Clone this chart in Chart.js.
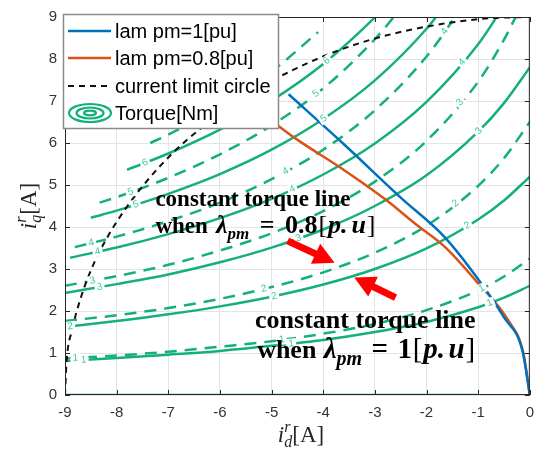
<!DOCTYPE html>
<html>
<head>
<meta charset="utf-8">
<script src="https://cdn.jsdelivr.net/npm/chart.js@4.4.1/dist/chart.umd.min.js"></script>
<style>
  body { margin: 0; background: #fff; }
</style>
</head>
<body>
<canvas id="myChart" width="543" height="453"></canvas>
<script>
// torque contours, lam pm = 1 [pu] (solid), points [id, iq]
const tq0 = [[-9, 0], [-1, 0]];
const tq1_lam1 = [[-9, 0.81], [-8, 0.88], [-7, 0.96], [-6, 1.05], [-5, 1.17], [-4, 1.31], [-3, 1.50], [-2, 1.74], [-1, 2.09], [-0.5, 2.32], [0, 2.60]];
const tq2_lam1 = [[-9, 1.62], [-8, 1.76], [-7, 1.92], [-6, 2.11], [-5, 2.34], [-4, 2.63], [-3, 3.00], [-2, 3.49], [-1, 4.18], [-0.5, 4.63], [0, 5.20]];
const tq3_lam1 = [[-9, 2.43], [-8, 2.64], [-7, 2.87], [-6, 3.16], [-5, 3.51], [-4, 3.94], [-3, 4.50], [-2, 5.23], [-1, 6.27], [-0.5, 6.95], [0, 7.80]];
const tq4_lam1 = [[-8.9, 3.27], [-8, 3.51], [-7, 3.83], [-6, 4.21], [-5, 4.67], [-4, 5.25], [-3, 5.99], [-2, 6.98], [-1, 8.35], [-0.5, 9.27]];
const tq5_lam1 = [[-8.5, 4.22], [-8, 4.39], [-7, 4.79], [-6, 5.26], [-5, 5.84], [-4, 6.57], [-3, 7.49], [-2, 8.72], [-1.5, 9.51]];
const tq6_lam1 = [[-7.8, 5.36], [-7, 5.75], [-6, 6.32], [-5, 7.01], [-4, 7.88], [-3, 8.99], [-2.9, 9.12]];

// torque contours, lam pm = 0.8 [pu] (dashed)
const tq1_lam08 = [[-9, 0.87], [-8, 0.94], [-7, 1.03], [-6, 1.15], [-5, 1.28], [-4, 1.46], [-3, 1.69], [-2, 2.02], [-1, 2.49], [-0.5, 2.82], [0, 3.25]];
const tq2_lam08 = [[-9, 1.76], [-8, 1.90], [-7, 2.07], [-6, 2.29], [-5, 2.57], [-4, 2.92], [-3, 3.39], [-2, 4.03], [-1, 4.98], [-0.5, 5.64], [0, 6.50]];
const tq3_lam08 = [[-9, 2.60], [-8, 2.83], [-7, 3.10], [-6, 3.44], [-5, 3.85], [-4, 4.38], [-3, 5.08], [-2, 6.05], [-1, 7.46], [-0.5, 8.46], [-0.25, 9.06]];
const tq4_lam08 = [[-8.81, 3.52], [-8, 3.77], [-7, 4.14], [-6, 4.58], [-5, 5.14], [-4, 5.84], [-3, 6.78], [-2, 8.06], [-1.5, 8.91], [-1, 9.95]];
const tq5_lam08 = [[-8.33, 4.58], [-8, 4.71], [-7, 5.17], [-6, 5.73], [-5, 6.42], [-4, 7.30], [-3, 8.47], [-2.5, 9.20]];
const tq6_lam08 = [[-7.35, 6.00], [-7, 6.20], [-6, 6.87], [-5, 7.70], [-4.1, 8.64]];

// current limit circle
const limitCircle = [[-9, 0], [-8.97, 0.78], [-8.86, 1.56], [-8.69, 2.33], [-8.46, 3.08], [-8.16, 3.80], [-7.79, 4.50], [-7.37, 5.16], [-6.89, 5.79], [-6.36, 6.36], [-5.79, 6.89], [-5.16, 7.37], [-4.50, 7.79], [-3.80, 8.16], [-3.08, 8.46], [-2.33, 8.69], [-1.56, 8.86], [-0.78, 8.97], [0, 9]];

// operating trajectories
const trajLam1 = [[-4.67, 7.16], [-3.6, 5.97], [-2.5, 4.70], [-1.65, 3.76], [-0.99, 2.74], [-0.5, 1.85], [-0.14, 1.04], [0, 0]];
const trajLam08 = [[-5.2, 6.72], [-4.54, 6.11], [-3.65, 5.40], [-2.8, 4.66], [-2.2, 4.06], [-1.63, 3.51], [-1.03, 2.70], [-0.42, 1.78], [-0.13, 1.02], [0, 0]];

const xTicks = [-9, -8, -7, -6, -5, -4, -3, -2, -1, 0];
const yTicks = [0, 1, 2, 3, 4, 5, 6, 7, 8, 9];

const GREEN = '#14b07a';
const LABEL_GREEN = '#3cc8a6';
const SANS = '"Liberation Sans", Arial, sans-serif';
const SERIF = '"Liberation Serif", "Times New Roman", serif';

const toXY = arr => arr.map(p => ({ x: p[0], y: p[1] }));

function lineDs(label, arr, color, width, dash) {
    return {
        label: label,
        data: toXY(arr),
        showLine: true,
        borderColor: color,
        backgroundColor: color,
        borderWidth: width,
        borderDash: dash || [],
        pointRadius: 0,
        cubicInterpolationMode: 'monotone',
        fill: false
    };
}

const datasets = [
    lineDs('lam pm=1[pu]', trajLam1, '#0072BD', 2.5),
    lineDs('lam pm=0.8[pu]', trajLam08, '#D95319', 2.5),
    lineDs('current limit circle', limitCircle, '#111', 2, [6, 5]),
    lineDs('T0', tq0, GREEN, 2.5),
    lineDs('T1', tq1_lam1, GREEN, 2.5),
    lineDs('T2', tq2_lam1, GREEN, 2.5),
    lineDs('T3', tq3_lam1, GREEN, 2.5),
    lineDs('T4', tq4_lam1, GREEN, 2.5),
    lineDs('T5', tq5_lam1, GREEN, 2.5),
    lineDs('T6', tq6_lam1, GREEN, 2.5),
    lineDs('T1d', tq1_lam08, GREEN, 2.5, [12, 8]),
    lineDs('T2d', tq2_lam08, GREEN, 2.5, [12, 8]),
    lineDs('T3d', tq3_lam08, GREEN, 2.5, [12, 8]),
    lineDs('T4d', tq4_lam08, GREEN, 2.5, [12, 8]),
    lineDs('T5d', tq5_lam08, GREEN, 2.5, [12, 8]),
    lineDs('T6d', tq6_lam08, GREEN, 2.5, [12, 8])
];

// contour labels: line, text, id positions
const contourLabels = [
    [tq1_lam1, '1', [-8.64, -4.62, -0.78]],
    [tq2_lam1, '2', [-8.9, -4.95, -1.21]],
    [tq3_lam1, '3', [-8.33, -4.48, -0.99]],
    [tq4_lam1, '4', [-8.37, -4.6, -1.31]],
    [tq5_lam1, '5', [-7.63, -3.99]],
    [tq6_lam1, '6', [-7.45, -3.93]],
    [tq1_lam08, '1', [-8.8, -4.8, -0.93]],
    [tq2_lam08, '2', [-5.15, -1.44]],
    [tq3_lam08, '3', [-8.47, -1.35]],
    [tq4_lam08, '4', [-8.49, -4.73, -1.65]],
    [tq5_lam08, '5', [-7.73, -4.14]],
    [tq6_lam08, '6', [-6.66]]
];

function interpY(pts, x) {
    for (let i = 0; i < pts.length - 1; i++) {
        const a = pts[i], b = pts[i + 1];
        if (x >= a[0] && x <= b[0]) return a[1] + (b[1] - a[1]) * (x - a[0]) / (b[0] - a[0]);
    }
    return null;
}

// draws a run of text pieces {t, f, dy, stack, g}; with a target width the
// leftover room is shared out over the gaps in proportion to g
function richText(ctx, parts, x, y, align, targetW) {
    let total = 0, pend = 0, gsum = 0;
    parts.forEach(p => {
        ctx.font = p.f;
        const w = ctx.measureText(p.t).width;
        if (p.stack) { pend = w; return; }
        total += Math.max(w, pend); pend = 0; gsum += p.g || 0;
    });
    const unit = targetW && gsum ? Math.max(0, targetW - total) / gsum : 0;
    if (targetW) total = targetW;
    let cx = align === 'center' ? x - total / 2 : x;
    pend = 0;
    parts.forEach(p => {
        ctx.font = p.f;
        const w = ctx.measureText(p.t).width;
        ctx.fillText(p.t, cx, y + (p.dy || 0));
        if (p.stack) { pend = w; return; }
        cx += Math.max(w, pend) + unit * (p.g || 0); pend = 0;
    });
}

function arrow(ctx, x0, y0, x1, y1) {
    const a = Math.atan2(y1 - y0, x1 - x0);
    const len = Math.hypot(x1 - x0, y1 - y0);
    const head = 21, hw = 11, sw = 3.5;
    ctx.save();
    ctx.translate(x0, y0);
    ctx.rotate(a);
    ctx.fillStyle = '#ff0000';
    ctx.beginPath();
    ctx.moveTo(0, -sw);
    ctx.lineTo(len - head, -sw);
    ctx.lineTo(len - head, -hw);
    ctx.lineTo(len, 0);
    ctx.lineTo(len - head, hw);
    ctx.lineTo(len - head, sw);
    ctx.lineTo(0, sw);
    ctx.closePath();
    ctx.fill();
    ctx.restore();
}

function whenLine(size, value) {
    const m = Math.round(size * 1.12);
    return [
        { t: 'when', f: 'bold ' + size + 'px ' + SERIF, g: 1 },
        { t: 'λ', f: 'italic bold ' + m + 'px ' + SERIF, g: 0 },
        { t: 'pm', f: 'italic bold ' + Math.round(size * 0.75) + 'px ' + SERIF, dy: Math.round(size * 0.27), g: 1.3 },
        { t: '=', f: 'bold ' + m + 'px ' + SERIF, g: 1.3 },
        { t: value, f: 'bold ' + m + 'px ' + SERIF, g: 0.1 },
        { t: '[', f: m + 'px ' + SERIF, g: 0.1 },
        { t: 'p.', f: 'italic bold ' + m + 'px ' + SERIF, g: 0.5 },
        { t: 'u', f: 'italic bold ' + m + 'px ' + SERIF, g: 0.1 },
        { t: ']', f: m + 'px ' + SERIF }
    ];
}

const overlay = {
    id: 'overlay',
    afterDatasetsDraw(chart) {
        const ctx = chart.ctx, xs = chart.scales.x, ys = chart.scales.y;
        const area = chart.chartArea;
        ctx.save();
        ctx.beginPath();
        ctx.rect(area.left, area.top, area.right - area.left, area.bottom - area.top);
        ctx.clip();

        // contour labels
        ctx.font = '10px ' + SANS;
        ctx.textAlign = 'center';
        ctx.textBaseline = 'middle';
        contourLabels.forEach(([pts, txt, xsPos]) => {
            xsPos.forEach(xv => {
                const yv = interpY(pts, xv);
                if (yv === null) return;
                const ya = interpY(pts, xv - 0.08) ?? yv, yb = interpY(pts, xv + 0.08) ?? yv;
                const px = xs.getPixelForValue(xv), py = ys.getPixelForValue(yv);
                const ang = Math.atan2(ys.getPixelForValue(yb) - ys.getPixelForValue(ya),
                    xs.getPixelForValue(xv + 0.08) - xs.getPixelForValue(xv - 0.08));
                ctx.save();
                ctx.translate(px, py);
                ctx.rotate(ang);
                ctx.fillStyle = '#fff';
                ctx.fillRect(-5, -5, 10, 10);
                ctx.fillStyle = LABEL_GREEN;
                ctx.fillText(txt, 0, 0);
                ctx.restore();
            });
        });

        // annotations
        ctx.fillStyle = '#000';
        ctx.textAlign = 'left';
        ctx.textBaseline = 'alphabetic';
        const s1 = 23, s2 = 26;
        let tx = xs.getPixelForValue(-7.25);
        richText(ctx, [{ t: 'constant torque line', f: 'bold ' + s1 + 'px ' + SERIF }], tx, ys.getPixelForValue(4.5));
        richText(ctx, whenLine(s1, '0.8'), tx, ys.getPixelForValue(3.86), 'left', 220);
        tx = xs.getPixelForValue(-5.32);
        richText(ctx, [{ t: 'constant torque line', f: 'bold ' + s2 + 'px ' + SERIF }], tx, ys.getPixelForValue(1.59));
        richText(ctx, whenLine(s2, '1'), xs.getPixelForValue(-5.28), ys.getPixelForValue(0.88), 'left', 218);

        arrow(ctx, xs.getPixelForValue(-4.69), ys.getPixelForValue(3.67), xs.getPixelForValue(-3.78), ys.getPixelForValue(3.15));
        arrow(ctx, xs.getPixelForValue(-2.60), ys.getPixelForValue(2.32), xs.getPixelForValue(-3.40), ys.getPixelForValue(2.80));
        ctx.restore();
    },
    afterDraw(chart) {
        const ctx = chart.ctx, xs = chart.scales.x, ys = chart.scales.y;
        const a = chart.chartArea;
        ctx.save();
        // axes box with inward ticks
        ctx.strokeStyle = '#262626';
        ctx.lineWidth = 1;
        ctx.strokeRect(a.left + 0.5, a.top + 0.5, a.right - a.left - 1, a.bottom - a.top - 1);
        ctx.beginPath();
        xTicks.forEach(v => {
            const p = Math.round(xs.getPixelForValue(v)) + 0.5;
            ctx.moveTo(p, a.bottom); ctx.lineTo(p, a.bottom - 5);
            ctx.moveTo(p, a.top); ctx.lineTo(p, a.top + 5);
        });
        yTicks.forEach(v => {
            const p = Math.round(ys.getPixelForValue(v)) + 0.5;
            ctx.moveTo(a.left, p); ctx.lineTo(a.left + 5, p);
            ctx.moveTo(a.right, p); ctx.lineTo(a.right - 5, p);
        });
        ctx.stroke();

        // axis titles
        ctx.fillStyle = '#262626';
        ctx.textBaseline = 'alphabetic';
        const title = sub => [
            { t: 'i', f: 'italic 23px ' + SERIF },
            { t: 'r', f: 'italic 16px ' + SERIF, dy: -10, stack: true },
            { t: sub, f: 'italic 16px ' + SERIF, dy: 5 },
            { t: '[A]', f: '23px ' + SERIF }
        ];
        richText(ctx, title('d'), 301, 442, 'center');
        ctx.save();
        ctx.translate(36, 206);
        ctx.rotate(-Math.PI / 2);
        richText(ctx, title('q'), 0, 0, 'center');
        ctx.restore();

        // legend
        const L = { x: 63, y: 14, w: 215, h: 114 };
        ctx.fillStyle = '#fff';
        ctx.fillRect(L.x, L.y, L.w, L.h);
        ctx.strokeStyle = '#8a8a8a';
        ctx.lineWidth = 1.5;
        ctx.strokeRect(L.x + 0.5, L.y + 0.5, L.w, L.h);
        const rows = [31, 58, 86, 113];
        ctx.lineWidth = 2.5;
        ctx.strokeStyle = '#0072BD';
        ctx.beginPath(); ctx.moveTo(68, rows[0]); ctx.lineTo(111, rows[0]); ctx.stroke();
        ctx.strokeStyle = '#D95319';
        ctx.beginPath(); ctx.moveTo(68, rows[1]); ctx.lineTo(111, rows[1]); ctx.stroke();
        ctx.strokeStyle = '#111';
        ctx.lineWidth = 2;
        ctx.setLineDash([6, 5]);
        ctx.beginPath(); ctx.moveTo(68, rows[2]); ctx.lineTo(111, rows[2]); ctx.stroke();
        ctx.setLineDash([]);
        ctx.strokeStyle = GREEN;
        ctx.lineWidth = 2.2;
        [[21, 9], [13.5, 5.5], [6, 2.3]].forEach(([rx, ry]) => {
            ctx.beginPath(); ctx.ellipse(90, rows[3], rx, ry, 0, 0, Math.PI * 2); ctx.stroke();
        });
        ctx.fillStyle = '#000';
        ctx.font = '20px ' + SANS;
        ctx.textBaseline = 'middle';
        ctx.textAlign = 'left';
        ['lam pm=1[pu]', 'lam pm=0.8[pu]', 'current limit circle', 'Torque[Nm]'].forEach((t, i) => {
            ctx.fillText(t, 115, rows[i] + 1);
        });
        ctx.restore();
    }
};

window.onload = () => {
    const ctx = document.querySelector('#myChart').getContext('2d');
    new Chart(ctx, {
        type: 'scatter',
        data: { datasets: datasets },
        options: {
            responsive: false,
            animation: false,
            devicePixelRatio: 1,
            layout: { padding: { top: 15, right: 4, left: 0, bottom: 0 } },
            plugins: { legend: { display: false }, tooltip: { enabled: false } },
            scales: {
                x: {
                    type: 'linear', min: -9, max: 0,
                    afterBuildTicks: s => { s.ticks = xTicks.map(v => ({ value: v })); },
                    ticks: { color: '#333', font: { family: SANS, size: 15 }, padding: 9, maxRotation: 0, autoSkip: false },
                    grid: { color: '#e4e4e4', drawTicks: false },
                    border: { display: false },
                    afterFit: s => { s.height = 58; }
                },
                y: {
                    type: 'linear', min: 0, max: 9,
                    afterBuildTicks: s => { s.ticks = yTicks.map(v => ({ value: v })); },
                    ticks: { color: '#333', font: { family: SANS, size: 15 }, padding: 8, autoSkip: false },
                    grid: { color: '#e4e4e4', drawTicks: false },
                    border: { display: false },
                    afterFit: s => { s.width = 65; }
                }
            }
        },
        plugins: [overlay]
    });
};
</script>
</body>
</html>
